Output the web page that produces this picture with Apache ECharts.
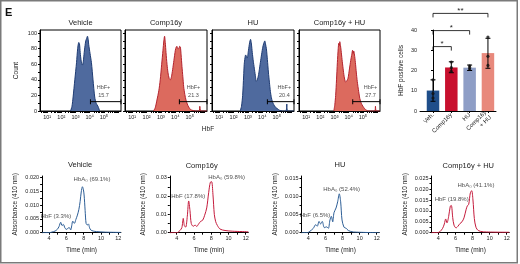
<!DOCTYPE html>
<html>
<head>
<meta charset="utf-8">
<script src="https://cdn.jsdelivr.net/npm/echarts@6/dist/echarts.min.js"></script>
<style>
  html, body { margin: 0; padding: 0; background: #fff; }
  #chart { width: 520px; height: 264px; }
</style>
</head>
<body>
<div id="chart"></div>
<script>
// flow histograms: [log10 HbF, count]
const flowVehicle = [[2.65,0],[2.75,6],[2.83,18],[2.95,40],[3.07,62],[3.15,80],[3.23,88],[3.28,86],[3.33,75],[3.4,64],[3.49,59],[3.55,64],[3.61,75],[3.67,84],[3.72,90],[3.78,93],[3.84,96],[3.89,92],[3.93,85],[4.02,74],[4.12,62],[4.23,40],[4.35,18],[4.45,10],[4.58,6],[4.7,0]]
const flowComp16y = [[2.48,0],[2.6,4],[2.72,14],[2.85,26],[2.95,40],[3.05,60],[3.14,78],[3.2,90],[3.25,96],[3.3,88],[3.35,75],[3.42,60],[3.49,49],[3.57,42],[3.65,40],[3.73,44],[3.81,53],[3.9,65],[4.0,78],[4.06,82],[4.11,83],[4.17,80],[4.23,80],[4.3,83],[4.35,82],[4.4,72],[4.46,57],[4.52,44],[4.58,31],[4.66,21],[4.74,14],[4.83,9],[4.93,5],[5.05,2],[5.16,1],[5.4,0],[5.65,0],[5.7,6],[5.77,0],[6.2,0]]
const flowHU = [[2.46,0],[2.55,6],[2.63,20],[2.7,45],[2.74,60],[2.79,68],[2.84,72],[2.9,70],[2.95,68],[3.02,76],[3.09,85],[3.14,90],[3.18,92],[3.24,86],[3.3,75],[3.37,64],[3.44,55],[3.51,46],[3.58,38],[3.65,40],[3.72,45],[3.79,53],[3.86,62],[3.95,73],[4.03,82],[4.1,87],[4.17,90],[4.22,86],[4.28,80],[4.35,66],[4.42,50],[4.49,37],[4.56,25],[4.63,17],[4.7,12],[4.8,8],[4.9,5],[5.05,3],[5.19,1],[5.4,0],[5.64,0],[5.7,9],[5.76,0],[6.2,0]]
const flowCombo = [[2.95,0],[3.02,8],[3.08,20],[3.14,40],[3.2,62],[3.26,80],[3.3,87],[3.34,84],[3.37,89],[3.42,84],[3.46,78],[3.53,66],[3.6,55],[3.68,44],[3.75,38],[3.79,37],[3.87,39],[3.95,42],[4.05,54],[4.14,65],[4.22,73],[4.27,78],[4.32,74],[4.35,77],[4.42,70],[4.48,60],[4.53,50],[4.6,38],[4.7,25],[4.78,16],[4.88,10],[5.0,6],[5.12,3],[5.25,1],[5.35,0],[5.84,0],[5.88,6],[5.93,0],[6.2,0]]
const flowTitles = ['Vehicle', 'Comp16y', 'HU', 'Comp16y + HU']
const gateStart = [4.05, 4.28, 4.35, 4.28]
const gateValues = ['15.7', '21.3', '20.4', '27.7']

// bar chart
const barCategories = ['Veh.', 'Comp16y', 'HU', 'Comp16y\n+ HU']
const barMeans = [10.1, 21.5, 21.4, 28.6]
const barLow = [4.8, 18.9, 20.0, 21.1]
const barHigh = [15.4, 24.3, 22.7, 35.9]
const barPoints = [[15.4, 8.6, 6.4], [24.2, 21.4, 19.6], [22.3, 21.5, 20.7], [36.5, 27, 22.5]]
const brackets = [[0, 1, 31.8, '*'], [0, 2, 39.7, '*'], [0, 3, 48.2, '**']]

// HPLC traces: [time (min), absorbance]
const hplcVehicle = [[3.2,0],[4.0,0],[4.3,0.0002],[4.7,0.0006],[4.95,0.0012],[5.15,0.0022],[5.35,0.0038],[5.5,0.0026],[5.66,0.003],[5.85,0.0016],[6.05,0.0012],[6.25,0.0018],[6.36,0.0018],[6.5,0.001],[6.62,0.0025],[6.74,0.0042],[6.93,0.0034],[7.1,0.0048],[7.28,0.0064],[7.45,0.0085],[7.59,0.0113],[7.72,0.0148],[7.86,0.0167],[7.96,0.0158],[8.05,0.0137],[8.17,0.008],[8.28,0.0034],[8.42,0.0028],[8.55,0.0032],[8.68,0.0018],[8.82,0.001],[9.1,0.0006],[9.5,0.0004],[10.5,0.0002],[12.3,0.0001]]
const hplcComp16y = [[3.2,0],[4.0,0],[4.38,0.0012],[4.6,0.0028],[4.76,0.0078],[4.88,0.004],[5.04,0.003],[5.23,0.009],[5.39,0.0173],[5.54,0.012],[5.69,0.005],[5.92,0.0035],[6.15,0.0042],[6.31,0.0034],[6.55,0.0048],[6.78,0.0062],[7.01,0.0068],[7.24,0.0095],[7.48,0.0135],[7.71,0.022],[7.9,0.0275],[8.05,0.0278],[8.2,0.021],[8.36,0.01],[8.52,0.006],[8.71,0.004],[9.02,0.002],[9.6,0.0012],[10.5,0.0008],[12.3,0.0005]]
const hplcHU = [[3.2,0],[3.9,0],[4.19,0.0004],[4.58,0.0012],[4.86,0.0022],[5.05,0.0018],[5.25,0.0031],[5.44,0.0024],[5.63,0.0031],[5.87,0.0014],[6.15,0.0016],[6.34,0.0012],[6.53,0.0035],[6.69,0.0045],[6.85,0.003],[7.0,0.0055],[7.24,0.0068],[7.43,0.0085],[7.62,0.0107],[7.78,0.0085],[7.94,0.0035],[8.17,0.0015],[8.37,0.0013],[8.68,0.0006],[9.26,0.0002],[12.3,0]]
const hplcCombo = [[3.2,0],[3.9,0],[4.19,0.0005],[4.5,0.002],[4.7,0.004],[4.86,0.0063],[5.01,0.0045],[5.21,0.0075],[5.4,0.0122],[5.52,0.0125],[5.68,0.007],[5.83,0.0035],[6.07,0.0022],[6.3,0.003],[6.53,0.0042],[6.77,0.005],[7.0,0.0068],[7.24,0.0105],[7.39,0.0123],[7.55,0.013],[7.74,0.0182],[7.9,0.0193],[8.05,0.015],[8.21,0.0065],[8.4,0.0025],[8.67,0.001],[9.26,0.0004],[12.3,0.0002]]
const hplcTitles = ['Vehicle', 'Comp16y', 'HU', 'Comp16y + HU']
const hbfPercent = ['3.3', '17.8', '6.5', '19.8']
const hbaPercent = ['69.1', '59.8', '52.4', '41.1']

const FONT = 'Liberation Sans'
const NARROW = 'Liberation Sans Narrow, Liberation Sans'
const BLUE_FILL = '#4f6a9e'
const BLUE_LINE = '#1f3c73'
const RED_FILL = '#dc6a5e'
const RED_LINE = '#b3232e'
const HPLC_BLUE = '#2d5e96'
const HPLC_RED = '#c41b3c'

const chart = echarts.init(document.getElementById('chart'))

// layout of the panels (px)
const flowLeft = [40, 125, 212, 299]
const flowWidth = [81, 82, 82, 81]
const hplcLeft = [42.1, 169.8, 301.5, 431.5]
const hplcWidth = [78.8, 78.5, 77.8, 77.8]
const hplcMax = [0.0206, 0.0309, 0.0156, 0.026]
const hplcStep = [0.005, 0.01, 0.005, 0.005]
const hplcDigits = [3, 2, 3, 3]
const hplcTitlePos = [[80, 164.5], [201.7, 165.5], [340, 165], [468.3, 165.5]]
const hbfLabelPos = [[4.8, 0.0061], [5.34, 0.0196], [4.78, 0.0049], [5.56, 0.0153]]
const hbaLabelPos = [[8.96, 0.0194], [9.79, 0.0300], [7.9, 0.0120], [8.4, 0.0219]]
const gateLabelX = [4.97, 5.26, 5.53, 5.53]

const sup = ['', '\u00b9', '\u00b2', '\u00b3', '\u2074', '\u2075']
const flowTicks = []
for (let d = 0; d <= 6; d++) {
  for (let m = 1; m <= 9; m++) {
    const v = d + Math.log10(m)
    if (v >= 0.5 && v <= 6.2) flowTicks.push(v)
  }
}

const grids = []
const xAxes = []
const yAxes = []
const series = []
const graphics = []

const axisBlack = { lineStyle: { color: '#000', width: 1 } }
const tickLabel = { fontSize: 5.5, color: '#222', fontFamily: FONT, margin: 3 }

// flow panels
const flowData = [flowVehicle, flowComp16y, flowHU, flowCombo]
flowData.forEach((data, i) => {
  grids.push({
    left: flowLeft[i], top: 30, width: flowWidth[i], height: 81,
    show: true, borderColor: '#000', borderWidth: 1, outerBoundsMode: 'none'
  })
  xAxes.push({
    gridIndex: i, type: 'value', min: 0.5, max: 6.2,
    axisLine: axisBlack,
    axisTick: { customValues: flowTicks, length: 2, lineStyle: { color: '#000' } },
    axisLabel: Object.assign({ customValues: [1, 2, 3, 4, 5], formatter: v => '10' + sup[v] }, tickLabel),
    splitLine: { show: false }
  })
  yAxes.push({
    gridIndex: i, type: 'value', min: 0, max: 104,
    name: i === 0 ? 'Count' : '', nameLocation: 'middle', nameGap: 20,
    nameTextStyle: { fontSize: 6.5, fontFamily: NARROW, color: '#222' },
    axisLine: axisBlack,
    axisTick: { customValues: [0, 10, 20, 30, 40, 50, 60, 70, 80, 90, 100], length: 2, lineStyle: { color: '#000' } },
    axisLabel: Object.assign({ show: i === 0, customValues: [0, 20, 40, 60, 80, 100] }, tickLabel),
    splitLine: { show: false }
  })
  const blue = i % 2 === 0
  series.push({
    type: 'line', xAxisIndex: i, yAxisIndex: i, data: data,
    symbol: 'none', smooth: 0.25,
    lineStyle: { color: blue ? BLUE_LINE : RED_LINE, width: 1 },
    areaStyle: { color: blue ? BLUE_FILL : RED_FILL, opacity: 1 }
  })
  series.push({
    type: 'line', xAxisIndex: i, yAxisIndex: i,
    data: [[gateStart[i], 12], [6.2, 12]],
    symbol: 'rect', symbolSize: [1, 5], showSymbol: true,
    lineStyle: { color: '#000', width: 1 }, itemStyle: { color: '#000' }
  })
  series.push({
    type: 'scatter', xAxisIndex: i, yAxisIndex: i,
    data: [[gateLabelX[i], 24.5]], symbolSize: 1, itemStyle: { color: 'transparent' },
    label: {
      show: true, position: 'inside', formatter: 'HbF+\n' + gateValues[i],
      fontSize: 5.5, lineHeight: 8, color: '#222', fontFamily: FONT
    }
  })
  graphics.push({
    type: 'text', style: {
      x: flowLeft[i] + flowWidth[i] / 2, y: 23, text: flowTitles[i],
      fontSize: 7.5, fontFamily: FONT, fill: '#222', textAlign: 'center', textVerticalAlign: 'middle'
    }
  })
})

// bar panel (grid 4)
grids.push({ left: 420, top: 30, width: 76, height: 81, outerBoundsMode: 'none' })
xAxes.push({
  gridIndex: 4, type: 'value', min: -0.71, max: 3.44,
  axisLine: axisBlack,
  axisTick: { customValues: [0, 1, 2, 3], length: 2, lineStyle: { color: '#000' } },
  axisLabel: {
    customValues: [0, 1, 2, 3], formatter: v => barCategories[v], rotate: 45,
    fontSize: 6, color: '#222', fontFamily: FONT, margin: 3, lineHeight: 7
  },
  splitLine: { show: false }
})
yAxes.push({
  gridIndex: 4, type: 'value', min: 0, max: 40, interval: 10,
  name: 'HbF positive cells', nameLocation: 'middle', nameGap: 15,
  nameTextStyle: { fontSize: 6.5, fontFamily: NARROW, color: '#222' },
  axisLine: axisBlack,
  axisTick: { length: 2, lineStyle: { color: '#000' } },
  axisLabel: tickLabel,
  splitLine: { show: false }
})
const barColors = ['#1f4e8a', '#c8102e', '#8e9ec6', '#e8897c']
series.push({
  type: 'bar', xAxisIndex: 4, yAxisIndex: 4, barWidth: 12.5,
  data: barMeans.map((v, i) => ({ value: [i, v], itemStyle: { color: barColors[i] } }))
})
series.push({
  type: 'custom', xAxisIndex: 4, yAxisIndex: 4,
  data: barMeans.map((v, i) => [i, barLow[i], barHigh[i]]),
  renderItem: (params, api) => {
    const lo = api.coord([api.value(0), api.value(1)])
    const hi = api.coord([api.value(0), api.value(2)])
    const s = { stroke: '#000', lineWidth: 1 }
    return {
      type: 'group', children: [
        { type: 'line', shape: { x1: lo[0], y1: lo[1], x2: hi[0], y2: hi[1] }, style: s },
        { type: 'line', shape: { x1: hi[0] - 2.5, y1: hi[1], x2: hi[0] + 2.5, y2: hi[1] }, style: s },
        { type: 'line', shape: { x1: lo[0] - 2.5, y1: lo[1], x2: lo[0] + 2.5, y2: lo[1] }, style: s }
      ]
    }
  },
  z: 3
})
series.push({
  type: 'scatter', xAxisIndex: 4, yAxisIndex: 4, symbolSize: 3.2,
  data: barPoints.flatMap((pts, i) => pts.map(p => [i, p])),
  itemStyle: { color: '#111' }, z: 4
})
series.push({
  type: 'custom', xAxisIndex: 4, yAxisIndex: 4, clip: false,
  data: brackets,
  encode: { x: [0, 1], y: 2 },
  renderItem: (params, api) => {
    const p1 = api.coord([api.value(0), api.value(2)])
    const p2 = api.coord([api.value(1), api.value(2)])
    const b = brackets[params.dataIndex]
    return {
      type: 'group', children: [
        { type: 'polyline', shape: { points: [[p1[0], p1[1] + 4], p1, p2, [p2[0], p2[1] + 4]] }, style: { stroke: '#000', lineWidth: 0.8, fill: null } },
        { type: 'text', style: { x: (p1[0] + p2[0]) / 2, y: p1[1] + 1, text: b[3], textAlign: 'center', textVerticalAlign: 'bottom', fontSize: 8, fill: '#222', fontFamily: FONT } }
      ]
    }
  }
})

// HPLC panels (grids 5..8)
const hplcData = [hplcVehicle, hplcComp16y, hplcHU, hplcCombo]
hplcData.forEach((data, k) => {
  const gi = 5 + k
  grids.push({ left: hplcLeft[k], top: 176, width: hplcWidth[k], height: 56.7, outerBoundsMode: 'none' })
  xAxes.push({
    gridIndex: gi, type: 'value', min: 3.2, max: 12.3,
    name: 'Time (min)', nameLocation: 'middle', nameGap: 14,
    nameTextStyle: { fontSize: 6.5, fontFamily: NARROW, color: '#222' },
    axisLine: axisBlack,
    axisTick: { customValues: [4, 5, 6, 7, 8, 9, 10, 11, 12], length: 2, lineStyle: { color: '#000' } },
    axisLabel: Object.assign({ customValues: [4, 6, 8, 10, 12] }, tickLabel),
    splitLine: { show: false }
  })
  const labs = []
  const ticks = []
  for (let v = 0; v <= hplcMax[k] + 1e-9; v += hplcStep[k] / 2) {
    ticks.push(+v.toFixed(5))
  }
  for (let v = 0; v <= hplcMax[k] + 1e-9; v += hplcStep[k]) {
    labs.push(+v.toFixed(5))
  }
  yAxes.push({
    gridIndex: gi, type: 'value', min: 0, max: hplcMax[k],
    name: 'Absorbance (410 nm)', nameLocation: 'middle', nameGap: 23,
    nameTextStyle: { fontSize: 6.5, fontFamily: NARROW, color: '#222' },
    axisLine: axisBlack,
    axisTick: { customValues: ticks, length: 2, lineStyle: { color: '#000' } },
    axisLabel: Object.assign({ customValues: labs, formatter: v => v.toFixed(hplcDigits[k]) }, tickLabel),
    splitLine: { show: false }
  })
  series.push({
    type: 'line', xAxisIndex: gi, yAxisIndex: gi, data: data,
    symbol: 'none', smooth: 0.3,
    lineStyle: { color: k % 2 === 0 ? HPLC_BLUE : HPLC_RED, width: 1 }
  })
  series.push({
    type: 'scatter', xAxisIndex: gi, yAxisIndex: gi, symbolSize: 1,
    itemStyle: { color: 'transparent' },
    data: [
      { value: hbfLabelPos[k], label: { formatter: 'HbF (' + hbfPercent[k] + '%)' } },
      { value: hbaLabelPos[k], label: { formatter: 'HbA\u2080 (' + hbaPercent[k] + '%)' } }
    ],
    label: { show: true, position: 'inside', fontSize: 6, color: '#222', fontFamily: FONT }
  })
  graphics.push({
    type: 'text', style: {
      x: hplcTitlePos[k][0], y: hplcTitlePos[k][1], text: hplcTitles[k],
      fontSize: 7.5, fontFamily: FONT, fill: '#222', textAlign: 'center', textVerticalAlign: 'middle'
    }
  })
})

graphics.push({
  type: 'text', style: { x: 208, y: 129, text: 'HbF', fontSize: 6.5, fontFamily: NARROW, fill: '#222', textAlign: 'center', textVerticalAlign: 'middle' }
})
graphics.push({
  type: 'text', style: { x: 5, y: 13, text: 'E', fontSize: 11, fontWeight: 'bold', fontFamily: FONT, fill: '#111', textVerticalAlign: 'middle' }
})
graphics.push({
  type: 'rect', shape: { x: 0.75, y: 0.75, width: 516.5, height: 262 },
  style: { fill: null, stroke: '#7a7a7a', lineWidth: 1.5 }, silent: true
})

chart.setOption({
  animation: false,
  textStyle: { fontFamily: FONT },
  grid: grids,
  xAxis: xAxes,
  yAxis: yAxes,
  series: series,
  graphic: graphics
})
</script>
</body>
</html>
